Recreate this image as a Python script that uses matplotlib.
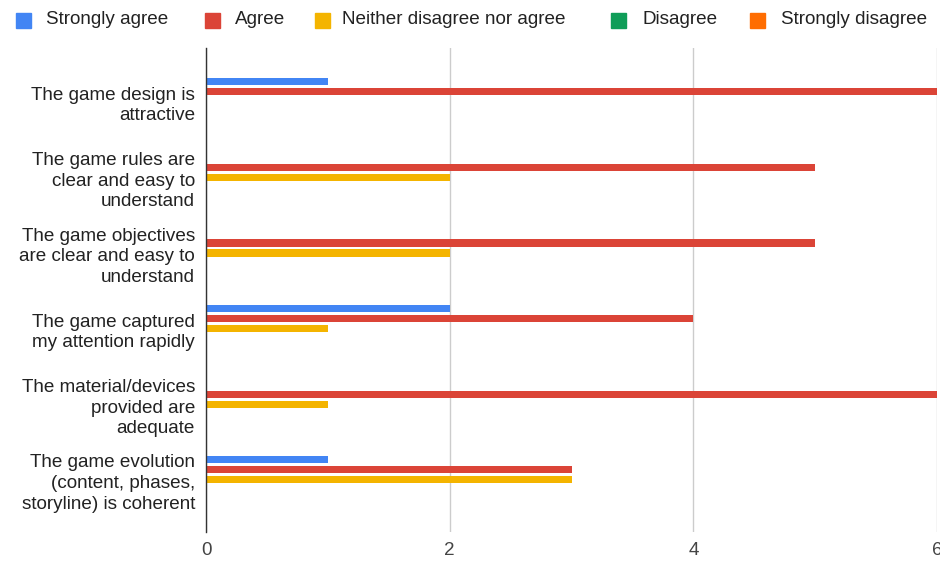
import matplotlib
matplotlib.use("Agg")
import matplotlib.pyplot as plt
from matplotlib.patches import Rectangle
import numpy as np

plt.rcParams['font.family'] = ['Liberation Sans', 'DejaVu Sans']

categories = [
    "The game design is\nattractive",
    "The game rules are\nclear and easy to\nunderstand",
    "The game objectives\nare clear and easy to\nunderstand",
    "The game captured\nmy attention rapidly",
    "The material/devices\nprovided are\nadequate",
    "The game evolution\n(content, phases,\nstoryline) is coherent",
]
series_names = ["Strongly agree", "Agree", "Neither disagree nor agree",
                "Disagree", "Strongly disagree"]
strongly_agree = [1, 0, 0, 2, 0, 1]
agree = [6, 5, 5, 4, 6, 3]
neither = [0, 2, 2, 1, 1, 3]
disagree = [0, 0, 0, 0, 0, 0]
strongly_disagree = [0, 0, 0, 0, 0, 0]
colors = ["#4285F4", "#DB4437", "#F4B400", "#0F9D58", "#FF6D01"]
xticks = [0, 2, 4, 6]

FS = 13.6
W, H = 940, 562
fig = plt.figure(figsize=(W / 100, H / 100), dpi=100)
ax = fig.add_axes([206 / W, 1 - 532 / H, (937 - 206) / W, (532 - 48) / H])

series = [strongly_agree, agree, neither, disagree, strongly_disagree]
y = np.arange(len(categories))
slot = 0.132
bar_h = 0.095
for i, (vals, c) in enumerate(zip(series, colors)):
    ax.barh(y + (i - 2) * slot, vals, height=bar_h, color=c, zorder=3)

ax.set_ylim(5.69, -0.71)
ax.set_xlim(0, 6)
ax.set_xticks(xticks)
ax.set_xticklabels([str(t) for t in xticks])
ax.set_yticks(y)
ax.set_yticklabels(categories, linespacing=1.28)
for lbl in ax.get_yticklabels():
    lbl.set_horizontalalignment('right')
ax.tick_params(axis='both', length=0, labelsize=FS, colors='#222222')
ax.tick_params(axis='y', pad=8)
ax.tick_params(axis='x', pad=7, labelcolor='#444444')
ax.grid(axis='x', color='#cccccc', linewidth=1, zorder=0)
for s in ['top', 'right', 'bottom']:
    ax.spines[s].set_visible(False)
ax.spines['left'].set_color('#333333')
ax.spines['left'].set_linewidth(1)
ax.spines['left'].set_zorder(4)

# legend row across the top
legend_x = [23, 212, 322, 618, 757]
text_x = [46, 235, 342, 642, 781]
ly = 20
sq = 15
for cx, tx, name, c in zip(legend_x, text_x, series_names, colors):
    fig.patches.append(Rectangle(((cx - sq / 2) / W, 1 - (ly + sq / 2) / H),
                                 sq / W, sq / H, transform=fig.transFigure,
                                 color=c, figure=fig))
    fig.text(tx / W, 1 - ly / H, name, ha='left', va='center',
             fontsize=FS, color='#222222')

fig.savefig("out.png", dpi=100, facecolor='white')
